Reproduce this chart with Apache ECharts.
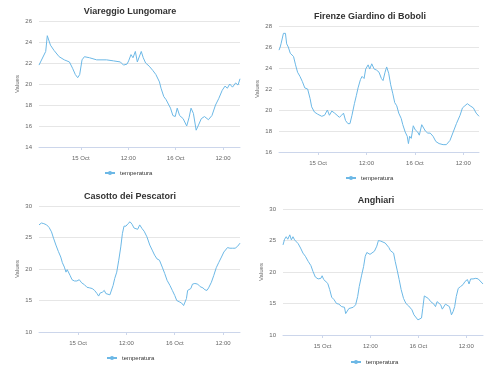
<!DOCTYPE html>
<html>
<head>
<meta charset="utf-8">
<script src="https://cdn.jsdelivr.net/npm/echarts@6/dist/echarts.min.js"></script>
<style>
html,body{margin:0;padding:0;background:#fff;}
#c{width:495px;height:380px;}
</style>
</head>
<body>
<div id="c"></div>
<script>
// hours relative to 15 Oct 00:00, temperature (°C)
var viareggio = [[-10.6,21.8],[-8.9,23.1],[-8.5,24.6],[-7.7,23.7],[-6.8,23.2],[-5.5,22.6],[-4.2,22.3],[-2.9,22.1],[-2.1,21.5],[-1.4,20.9],[-0.8,20.6],[-0.3,20.9],[0.3,22.3],[0.9,22.6],[2.2,22.5],[4.0,22.3],[6.5,22.3],[8.3,22.2],[10.0,22.1],[10.8,21.8],[11.7,21.9],[12.1,22.2],[12.7,22.8],[13.2,22.5],[13.8,23.1],[14.3,22.1],[14.7,22.0],[15.3,23.1],[15.8,22.5],[16.4,22.0],[17.3,21.7],[18.2,21.3],[19.0,20.9],[19.9,20.2],[20.3,19.6],[21.0,18.8],[21.6,18.5],[22.0,18.5],[22.7,17.7],[23.3,17.0],[23.9,16.9],[24.4,17.7],[25.0,17.0],[25.9,16.7],[26.8,16.0],[27.4,16.8],[27.9,17.7],[28.5,17.2],[29.2,15.6],[29.8,16.1],[30.5,16.7],[31.3,16.9],[32.3,16.6],[33.2,17.0],[34.1,18.0],[34.9,18.6],[35.8,19.4],[36.5,19.8],[37.1,19.6],[37.7,20.0],[38.4,19.7],[39.2,20.1],[39.8,19.9],[40.3,20.5]];
var firenze = [[-9.7,25.7],[-9.4,26.0],[-9.2,26.3],[-8.9,26.4],[-8.6,27.3],[-8.1,27.3],[-7.8,26.3],[-7.4,26.0],[-6.9,25.4],[-6.6,25.5],[-6.1,25.1],[-5.6,24.3],[-5.1,23.6],[-4.5,23.2],[-3.9,22.7],[-3.3,22.1],[-2.6,22.0],[-2.0,21.1],[-1.6,20.3],[-0.9,19.8],[-0.1,19.6],[0.9,19.4],[1.6,19.5],[2.3,20.0],[2.8,19.5],[3.4,19.9],[4.1,19.7],[4.7,19.5],[5.3,19.3],[5.8,19.5],[6.3,19.7],[6.8,19.0],[7.4,18.7],[7.9,18.7],[8.4,19.5],[9.0,20.6],[9.5,21.4],[9.9,22.1],[10.5,22.9],[10.9,23.2],[11.4,23.0],[11.8,23.9],[12.4,24.3],[12.8,23.9],[13.3,24.4],[13.9,23.9],[14.5,23.8],[15.1,23.6],[15.7,23.0],[16.1,22.8],[16.6,23.6],[17.0,24.1],[17.5,23.5],[18.0,22.4],[18.5,21.6],[19.0,20.7],[19.5,20.4],[20.0,19.7],[20.6,19.2],[21.0,18.6],[21.6,17.9],[22.1,17.5],[22.4,16.8],[22.7,17.5],[23.1,17.3],[23.6,18.5],[24.1,18.1],[24.7,17.9],[25.1,17.6],[25.7,18.6],[26.1,18.6],[26.6,18.0],[27.2,17.8],[27.8,17.8],[28.5,17.5],[29.2,17.0],[30.0,16.8],[31.0,16.7],[31.8,16.7],[32.7,17.1],[33.5,17.9],[34.3,18.7],[35.2,19.5],[35.8,20.2],[36.4,20.4],[37.0,20.6],[37.7,20.4],[38.5,20.2],[39.2,19.7],[39.9,19.4]];
var casotto = [[-9.7,27.0],[-9.1,27.3],[-8.5,27.2],[-7.8,27.0],[-7.2,26.6],[-6.6,25.9],[-6.1,24.9],[-5.5,23.8],[-4.9,22.8],[-4.3,21.9],[-3.9,21.0],[-3.4,20.3],[-3.0,19.5],[-2.7,19.9],[-2.3,20.2],[-2.0,19.0],[-1.5,18.3],[-0.9,18.1],[-0.3,18.1],[0.3,18.3],[0.9,17.8],[1.6,17.5],[2.2,17.1],[2.9,17.0],[3.5,16.9],[4.1,16.6],[4.7,16.1],[5.1,15.7],[5.5,16.2],[6.0,16.3],[6.5,16.6],[6.9,16.1],[7.3,15.8],[7.9,15.9],[8.3,16.1],[8.7,17.4],[9.1,18.5],[9.6,19.5],[10.1,21.4],[10.6,23.5],[11.0,25.6],[11.4,26.8],[11.9,26.8],[12.4,27.2],[12.9,27.5],[13.4,27.1],[13.9,26.5],[14.3,26.7],[14.8,26.3],[15.3,27.0],[15.9,26.4],[16.4,26.0],[17.1,25.1],[17.8,23.8],[18.4,23.0],[19.0,22.2],[19.6,21.6],[20.2,21.4],[20.9,20.3],[21.5,19.3],[22.1,18.2],[22.8,17.4],[23.4,16.6],[24.0,15.8],[24.5,15.0],[25.1,14.8],[25.7,14.6],[26.2,14.2],[26.6,14.1],[26.9,15.3],[27.2,16.6],[27.6,16.6],[28.0,16.9],[28.4,17.6],[29.0,17.7],[29.7,17.6],[30.3,17.2],[31.0,17.0],[31.5,16.7],[32.0,16.6],[32.4,17.0],[33.1,17.9],[33.7,19.0],[34.3,20.2],[34.9,21.0],[35.6,21.9],[36.2,22.7],[36.6,23.0],[37.1,23.4],[37.7,23.3],[38.4,23.3],[39.0,23.3],[39.6,23.6],[40.2,24.1]];
var anghiari = [[-9.9,24.3],[-9.5,25.2],[-9.1,25.6],[-8.7,25.2],[-8.2,25.9],[-7.8,25.1],[-7.4,25.6],[-7.0,25.1],[-6.6,24.9],[-6.1,24.5],[-5.5,23.8],[-4.9,23.0],[-4.3,22.5],[-3.6,21.7],[-2.9,21.0],[-2.4,20.1],[-1.8,19.2],[-1.1,18.9],[-0.4,19.0],[-0.1,19.4],[0.3,18.8],[0.8,19.0],[1.3,18.2],[1.8,17.2],[2.3,16.0],[2.9,15.6],[3.5,15.0],[4.1,14.9],[4.8,14.5],[5.5,14.4],[5.8,13.4],[6.1,13.3],[6.6,14.2],[7.1,14.5],[7.7,14.4],[8.3,14.8],[8.8,16.1],[9.2,17.7],[9.8,19.5],[10.3,20.9],[10.7,22.5],[11.1,23.1],[11.5,23.4],[11.9,22.8],[12.4,22.7],[13.0,23.3],[13.6,24.1],[14.0,25.0],[14.6,24.9],[15.1,24.6],[15.7,24.6],[16.1,24.3],[16.6,23.9],[17.0,23.4],[17.4,23.6],[17.8,23.0],[18.2,21.7],[18.7,20.3],[19.2,18.8],[19.7,17.2],[20.3,15.8],[20.9,15.0],[21.6,14.6],[22.0,14.8],[22.4,14.0],[22.9,13.2],[23.4,13.0],[23.9,12.4],[24.3,12.1],[24.8,12.7],[25.1,14.2],[25.5,16.2],[26.0,16.0],[26.5,15.8],[27.1,15.3],[27.5,15.5],[27.9,14.9],[28.3,14.5],[28.7,15.3],[29.2,15.6],[29.6,14.8],[30.0,14.1],[30.4,14.0],[30.8,14.9],[31.3,14.8],[31.8,14.5],[32.3,13.2],[32.7,13.7],[33.1,14.5],[33.5,16.1],[34.0,17.4],[34.6,17.7],[35.2,18.0],[35.7,18.5],[36.3,18.8],[36.7,18.1],[37.1,18.9],[37.7,18.9],[38.4,19.0],[39.0,18.9],[39.5,18.8],[40.2,18.1]];

var titles = ['Viareggio Lungomare', 'Firenze Giardino di Boboli', 'Casotto dei Pescatori', 'Anghiari'];
var seriesName = 'temperatura';
var tickHours = [0, 12, 24, 36];
var tickLabels = ['15 Oct', '12:00', '16 Oct', '12:00'];
var yMins = [14, 16, 10, 10];
var yMaxs = [26, 28, 30, 30];
var yIntervals = [2, 2, 5, 5];

var datasets = [viareggio, firenze, casotto, anghiari];
// layout
var grids = [
  {left: 39, top: 21, width: 201, height: 126},
  {left: 279, top: 26, width: 200, height: 126},
  {left: 39, top: 206, width: 201, height: 126},
  {left: 283, top: 209, width: 200, height: 126}
];
var titlePos = [[125, 2], [365, 7], [125, 187], [371, 191]];
var legendPos = [[104, 170], [345, 175], [106, 355], [350, 359]];

var lineColor = '#6cb8e6';
var option = {
  animation: false,
  title: [], legend: [], grid: [], xAxis: [], yAxis: [], series: []
};
for (var i = 0; i < 4; i++) {
  var d = datasets[i];
  option.title.push({
    text: titles[i], left: titlePos[i][0], top: titlePos[i][1], textAlign: 'center',
    textStyle: {fontFamily: 'Liberation Sans, Arial, sans-serif', fontSize: 9, fontWeight: 'bold', color: '#333333'}
  });
  option.legend.push({
    data: [seriesName], left: legendPos[i][0], top: legendPos[i][1],
    itemWidth: 10, itemHeight: 5, itemGap: 4, padding: 0,
    textStyle: {fontFamily: 'Liberation Sans, Arial, sans-serif', fontSize: 6, color: '#333333'}
  });
  option.grid.push(grids[i]);
  option.xAxis.push({
    type: 'value', gridIndex: i, min: d[0][0], max: d[d.length - 1][0],
    axisLine: {show: true, lineStyle: {color: '#ccd6eb', width: 1}},
    axisTick: {show: true, length: 3, lineStyle: {color: '#ccd6eb'}, customValues: tickHours},
    axisLabel: {
      customValues: tickHours, fontSize: 6, color: '#666666', margin: 8,
      fontFamily: 'Liberation Sans, Arial, sans-serif',
      formatter: function (v) { var k = tickHours.indexOf(v); return k >= 0 ? tickLabels[k] : ''; }
    },
    splitLine: {show: false}
  });
  option.yAxis.push({
    type: 'value', gridIndex: i, min: yMins[i], max: yMaxs[i], interval: yIntervals[i],
    name: 'Values', nameLocation: 'middle', nameRotate: 90, nameGap: 19,
    nameTextStyle: {fontSize: 6, color: '#666666', fontFamily: 'Liberation Sans, Arial, sans-serif'},
    axisLine: {show: false}, axisTick: {show: false},
    axisLabel: {fontSize: 6, color: '#666666', margin: 7, fontFamily: 'Liberation Sans, Arial, sans-serif'},
    splitLine: {show: true, lineStyle: {color: '#e6e6e6', width: 1}}
  });
  option.series.push({
    name: seriesName, type: 'line', xAxisIndex: i, yAxisIndex: i,
    data: d, symbol: 'circle', symbolSize: 4, showSymbol: false,
    lineStyle: {color: lineColor, width: 1}, itemStyle: {color: lineColor}
  });
}
var chart = echarts.init(document.getElementById('c'), null, {renderer: 'canvas'});
chart.setOption(option);
</script>
</body>
</html>
